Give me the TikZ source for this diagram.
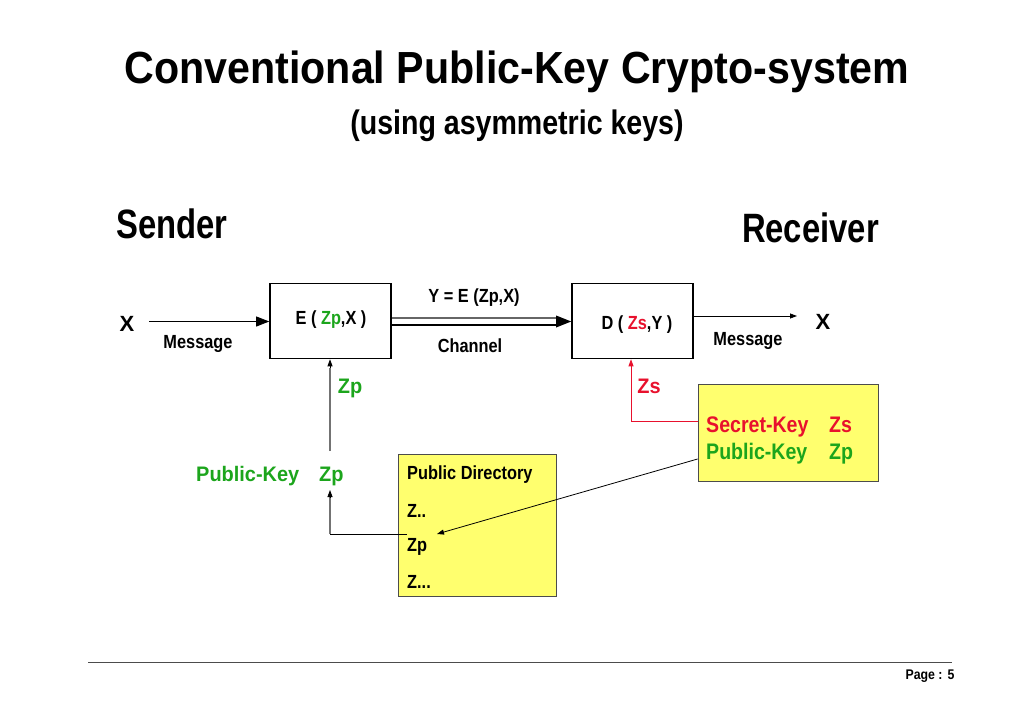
\documentclass[tikz,border=0pt]{standalone}
\usepackage{fontspec}
\usepackage{graphicx}
\setmainfont{Liberation Sans}
\usetikzlibrary{arrows.meta}
\definecolor{kgreen}{RGB}{28,165,28}
\definecolor{kred}{RGB}{232,17,45}
\definecolor{kyellow}{RGB}{255,255,110}
\newcommand\hsq[2]{\scalebox{#1}[1]{#2}}
\tikzset{
  txt/.style={inner sep=0pt},
  small/.style={txt, font=\bfseries\fontsize{19}{22}\selectfont},
  keyf/.style={txt, font=\bfseries\fontsize{21}{24}\selectfont},
  bigk/.style={txt, font=\bfseries\fontsize{22.5}{26}\selectfont},
  blk/.style={draw=black, line width=1.6pt, minimum width=121pt, minimum height=75pt, inner sep=0pt},
  ybox/.style={draw=black!70, fill=kyellow, line width=0.8pt, inner sep=0pt},
  arr/.style={-{Triangle[length=13pt,width=10pt]}, line width=0.8pt},
  sarr/.style={-{Triangle[length=7pt,width=5pt]}, line width=0.8pt},
}
\begin{document}
\begin{tikzpicture}[x=1pt,y=-1pt]
\useasboundingbox (0,0) rectangle (1024,711);
% titles
\node[txt, font=\bfseries\fontsize{45}{48}\selectfont, anchor=base] (title) at (517,84) {\hsq{0.915}{Conventional Public-Key Crypto-system}};
\node[txt, font=\bfseries\fontsize{34}{38}\selectfont, anchor=base] (sub) at (517,135) {\hsq{0.84}{(using asymmetric keys)}};
\node[txt, font=\bfseries\fontsize{41}{44}\selectfont, anchor=base west] (sender) at (116,238) {\hsq{0.80}{Sender}};
\node[txt, font=\bfseries\fontsize{41}{44}\selectfont, anchor=base east] (receiver) at (879,243) {\hsq{0.80}{Receiver}};
% boxes
\node[blk] (E) at (330.5,321) {};
\node[small] (Et) at (331,320) {\hsq{0.86}{E ( \textcolor{kgreen}{Zp},X )}};
\node[blk] (D) at (632.5,321) {};
\node[small] (Dt) at (637,325) {\hsq{0.86}{D ( \textcolor{kred}{Zs},Y )}};
% input
\node[txt, font=\bfseries\fontsize{22}{24}\selectfont] (Xin) at (127,324) {X};
\coordinate (xs) at (149,321.5);
\draw[arr] (xs) -- (E.west |- xs);
\node[small] (m1) at (198,344) {\hsq{0.86}{Message}};
% channel
\coordinate (c1) at (E.east |- 0,318);
\coordinate (c2) at (E.east |- 0,325);
\draw[line width=1.2pt, black!60] (c1) -- ([xshift=-12pt]c1 -| D.west);
\draw[line width=1.2pt] (c2) -- ([xshift=-12pt]c2 -| D.west);
\fill (D.west |- 0,321.5) -- ++(-15,-6) -- ++(0,12) -- cycle;
\node[small] (y) at (474,298) {\hsq{0.86}{Y = E (Zp,X)}};
\node[small] (ch) at (470,346) {\hsq{0.86}{Channel}};
% output
\coordinate (os) at (D.east |- 0,316);
\coordinate (oe) at (797,316);
\draw[sarr] (os) -- (oe);
\node[txt, font=\bfseries\fontsize{22}{24}\selectfont] (Xout) at (823,322) {X};
\node[small] (m2) at (748,341) {\hsq{0.86}{Message}};
% public key path
\node[keyf, text=kgreen, anchor=base west] (pk) at (196,481) {\hsq{0.95}{Public-Key}};
\node[keyf, text=kgreen, anchor=base west] (pkz) at (319,481) {\hsq{0.95}{Zp}};
\coordinate (pa) at (330,451);
\coordinate (pb) at (330,368);
\draw[black!55, line width=1.4pt] (pa) -- (pb);
\draw[sarr] (pb) -- (E.south -| pb);
\node[keyf, text=kgreen, anchor=base] (zp) at (350,393) {\hsq{0.95}{Zp}};
% public directory
\node[ybox, minimum width=158pt, minimum height=142pt] (PD) at (477,525) {};
\node[small, anchor=base west] (pdt) at (407,479) {\hsq{0.86}{Public Directory}};
\node[small, anchor=base west] (z1) at (407,517) {\hsq{0.86}{Z..}};
\node[small, anchor=base west] (z2) at (407,551) {\hsq{0.86}{Zp}};
\node[small, anchor=base west] (z3) at (407,588) {\hsq{0.86}{Z...}};
\coordinate (corner) at (330,534);
\coordinate (cup) at (330,497);
\draw[line width=0.8pt] (z2.west |- corner) -- (corner);
\draw[black!55, line width=1.4pt] (corner) -- (cup);
\draw[sarr] (cup) -- (330,490);
% receiver keys box
\node[ybox, minimum width=180pt, minimum height=97pt] (RK) at (788,432.5) {};
\node[bigk, text=kred, anchor=base west] (sk) at (706,432) {\hsq{0.87}{Secret-Key}};
\node[bigk, text=kred, anchor=base west] (skz) at (829,432) {\hsq{0.87}{Zs}};
\node[bigk, text=kgreen, anchor=base west] (pk2) at (706,459) {\hsq{0.87}{Public-Key}};
\node[bigk, text=kgreen, anchor=base west] (pk2z) at (829,459) {\hsq{0.87}{Zp}};
\coordinate (rc) at (631,421);
\draw[kred, sarr] (RK.west |- rc) -- (rc) -- (D.south -| rc);
\node[keyf, text=kred, anchor=base] (zs) at (649,393) {\hsq{0.95}{Zs}};
\coordinate (pdtip) at (437,534);
\draw[sarr] (RK.west |- 0,459) -- (pdtip);
% footer
\coordinate (f1) at (88,662);
\coordinate (f2) at (952,662);
\draw[black!70, line width=1pt] (f1) -- (f2);
\node[txt, font=\bfseries\fontsize{14}{16}\selectfont] (page) at (930,676) {\hsq{0.88}{Page :\hspace{0.4em}5}};
\end{tikzpicture}
\end{document}
